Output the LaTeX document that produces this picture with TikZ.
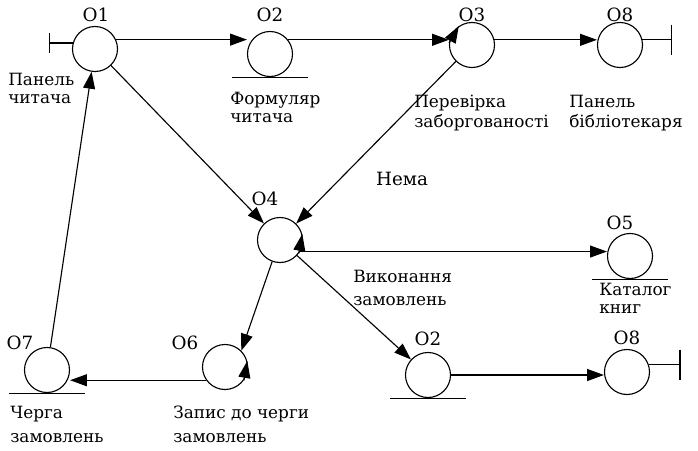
\documentclass[tikz,border=0pt]{standalone}
\usepackage{fontspec}
\setmainfont{DejaVu Serif}
\usetikzlibrary{arrows.meta}
\tikzset{object/.style={circle, draw, thick, minimum size=1.125cm, inner sep=0pt},
	msg/.style={thick, -{Triangle[length=12pt,width=8.5pt]}},
	tip/.style={thick, -{Triangle[length=12pt,width=8.5pt]}},
	caption/.style={align=left, anchor=north west, inner sep=0pt, font=\fontsize{12}{12.5}\selectfont},
	tag/.style={inner sep=0pt, font=\fontsize{13}{13}\selectfont}}

\begin{document}
\begin{tikzpicture}[x=0.025cm, y=-0.025cm]
		\useasboundingbox (0,0) rectangle (698,450);
		% objects
		\node[object] (o1) at (95,49) {};
		\node[object] (o2) at (270,54) {};
		\node[object] (o3) at (472,45) {};
		\node[object] (o8) at (620,45) {};
		\node[object] (o4) at (280,240) {};
		\node[object] (o5) at (630,256) {};
		\node[object] (o7) at (47,370) {};
		\node[object] (o6) at (225,367) {};
		\node[object] (o2b) at (428,375) {};
		\node[object] (o8b) at (627,372) {};
		
		% boundary, entity and control marks
		\draw[thick] (o1.165) -- ++(-23,0) coordinate (b1);
		\draw[thick] ([yshift=0.25cm]b1) -- ([yshift=-0.25cm]b1);
		\draw[thick] (o8.13) -- ++(29,0) coordinate (b8);
		\draw[thick] ([yshift=0.38cm]b8) -- ([yshift=-0.38cm]b8);
		\draw[thick] (o8b.18) -- ++(31,0) coordinate (b8b);
		\draw[thick] ([yshift=0.38cm]b8b) -- ([yshift=-0.38cm]b8b);
		\foreach \e in {o2,o5,o7,o2b}
			\draw[thick] ([xshift=-0.94cm]\e.south) -- ([xshift=0.94cm]\e.south);
		\draw[tip] (o3.175) -- (o3.125);
		\draw[tip] (o4.-35) -- (o4.15);
		\draw[tip] (o6.-35) -- (o6.15);
		
		% messages
		\draw[msg] (o1.24) -- (o1.24 -| o2.west);
		\draw[msg] (o2.38) -- (o2.38 -| o3.west);
		\draw[msg] (o3.13) -- (o3.13 -| o8.west);
		\draw[msg] (o1) -- (o4);
		\draw[msg] (o3) -- (o4);
		\draw[msg] (o4.-30) -- (o4.-30 -| o5.west);
		\draw[msg] (o4.250) -- (o6.45);
		\draw[msg] (o4) -- (o2b);
		\draw[msg] (o6.215) -- (o6.215 -| o7.east);
		\draw[msg] (o2b.east) -- (o2b.east -| o8b.west);
		\draw[msg] (o7) -- (o1);
		
		% names
		\node[tag] (n1) at (96,15) {O1};
		\node[tag] (n2) at (270,15) {O2};
		\node[tag] (n3) at (472,15) {O3};
		\node[tag] (n8) at (620,15) {O8};
		\node[tag] (n4) at (265,199) {O4};
		\node[tag] (n5) at (620,223) {O5};
		\node[tag] (n7) at (20,343) {O7};
		\node[tag] (n6) at (185,343) {O6};
		\node[tag] (n2b) at (428,339) {O2};
		\node[tag] (n8b) at (627,338) {O8};
		
		% captions
		\node[caption] (c1) at (8,73) {Панель\\читача};
		\node[caption] (c2) at (230,92) {Формуляр\\читача};
		\node[caption, font=\fontsize{12}{14}\selectfont] (c3) at (414,95) {Перевірка\\заборгованості};
		\node[caption, font=\fontsize{12}{14}\selectfont] (c8) at (569,95) {Панель\\бібліотекаря};
		\node[tag] (c0) at (402,179) {Нема};
		\node[caption, font=\fontsize{12}{16.5}\selectfont] (c4) at (353,270) {Виконання\\замовлень};
		\node[caption] (c5) at (599,283) {Каталог\\книг};
		\node[caption, font=\fontsize{12}{17}\selectfont] (c7) at (10,406) {Черга\\замовлень};
		\node[caption, font=\fontsize{12}{17}\selectfont] (c6) at (173,406) {Запис до черги\\замовлень};
\end{tikzpicture}
\end{document}
